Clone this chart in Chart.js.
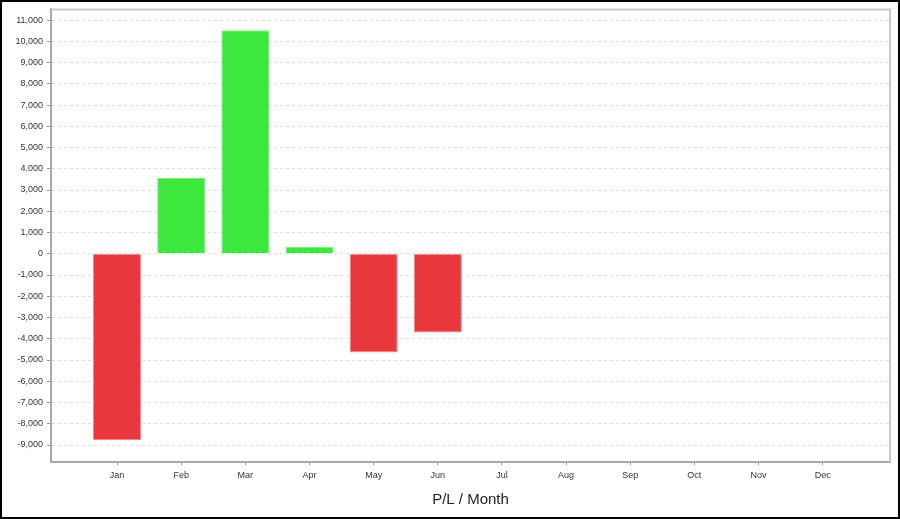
<!DOCTYPE html>
<html>
<head>
<meta charset="utf-8">
<script src="https://cdn.jsdelivr.net/npm/chart.js@4"></script>
<style>
html,body{margin:0;padding:0;background:#fff;}
#wrap{position:relative;width:900px;height:519px;}
</style>
</head>
<body>
<div id="wrap"><canvas id="c" width="900" height="519"></canvas></div>
<script>
const months = ["Jan","Feb","Mar","Apr","May","Jun","Jul","Aug","Sep","Oct","Nov","Dec"];
const plValues = [-8780, 3570, 10520, 330, -4650, -3710];
const yTickValues = [11000,10000,9000,8000,7000,6000,5000,4000,3000,2000,1000,0,-1000,-2000,-3000,-4000,-5000,-6000,-7000,-8000,-9000];
const xTitle = "P/L / Month";

const points = plValues.map((v, i) => ({x: i, y: v}));
const fills = plValues.map(v => v >= 0 ? "#3ce83c" : "#e8373d");
const borders = plValues.map(v => v >= 0 ? "#7af27a" : "#f08a8e");

const framePlugin = {
  id: "frame",
  beforeDatasetsDraw(chart) {
    const {ctx, chartArea: a} = chart;
    ctx.save();
    ctx.strokeStyle = "#c8c8c8";
    ctx.lineWidth = 2;
    ctx.beginPath();
    ctx.moveTo(a.left, a.top); ctx.lineTo(a.right, a.top); ctx.lineTo(a.right, a.bottom);
    ctx.stroke();
    ctx.restore();
  },
  afterDraw(chart) {
    const ctx = chart.ctx;
    ctx.save();
    ctx.strokeStyle = "#000";
    ctx.lineWidth = 2;
    ctx.strokeRect(1, 1, chart.width - 2, chart.height - 2);
    ctx.restore();
  }
};

new Chart(document.getElementById("c"), {
  type: "bar",
  data: {
    datasets: [{
      data: points,
      backgroundColor: fills,
      borderColor: borders,
      borderWidth: 1,
      barPercentage: 0.75,
      categoryPercentage: 1.0
    }]
  },
  options: {
    responsive: false,
    animation: false,
    layout: {padding: {left: 0, top: 8, right: 10, bottom: 0}},
    plugins: {legend: {display: false}, tooltip: {enabled: false}},
    scales: {
      x: {
        type: "linear",
        offset: false,
        min: -1.03,
        max: 12.05,
        afterBuildTicks(scale) { scale.ticks = months.map((m, i) => ({value: i})); },
        afterFit(scale) { scale.height = 57; },
        ticks: {
          autoSkip: false,
          maxRotation: 0,
          padding: 5,
          color: "#333",
          font: {family: "Liberation Sans, Arial, sans-serif", size: 9},
          callback: (v) => months[v]
        },
        grid: {offset: false, drawOnChartArea: false, drawTicks: true, tickLength: 3, tickColor: "#999", tickWidth: 1},
        border: {display: true, color: "#a8a8a8", width: 2},
        title: {
          display: true,
          text: xTitle,
          color: "#222",
          font: {family: "Liberation Sans, Arial, sans-serif", size: 15},
          padding: {top: 4, bottom: 10}
        }
      },
      y: {
        min: -9800,
        max: 11500,
        afterBuildTicks(scale) { scale.ticks = yTickValues.map(v => ({value: v})); },
        afterFit(scale) { scale.width = 51; },
        ticks: {
          padding: 4,
          color: "#333",
          font: {family: "Liberation Sans, Arial, sans-serif", size: 9},
          callback: (v) => v.toLocaleString("en-US")
        },
        grid: {color: "#dcdcdc", lineWidth: 1, tickLength: 4, tickColor: "#999", tickBorderDash: [], drawTicks: true},
        border: {display: true, color: "#a8a8a8", width: 2, dash: [3, 3]}
      }
    }
  },
  plugins: [framePlugin]
});
</script>
</body>
</html>
